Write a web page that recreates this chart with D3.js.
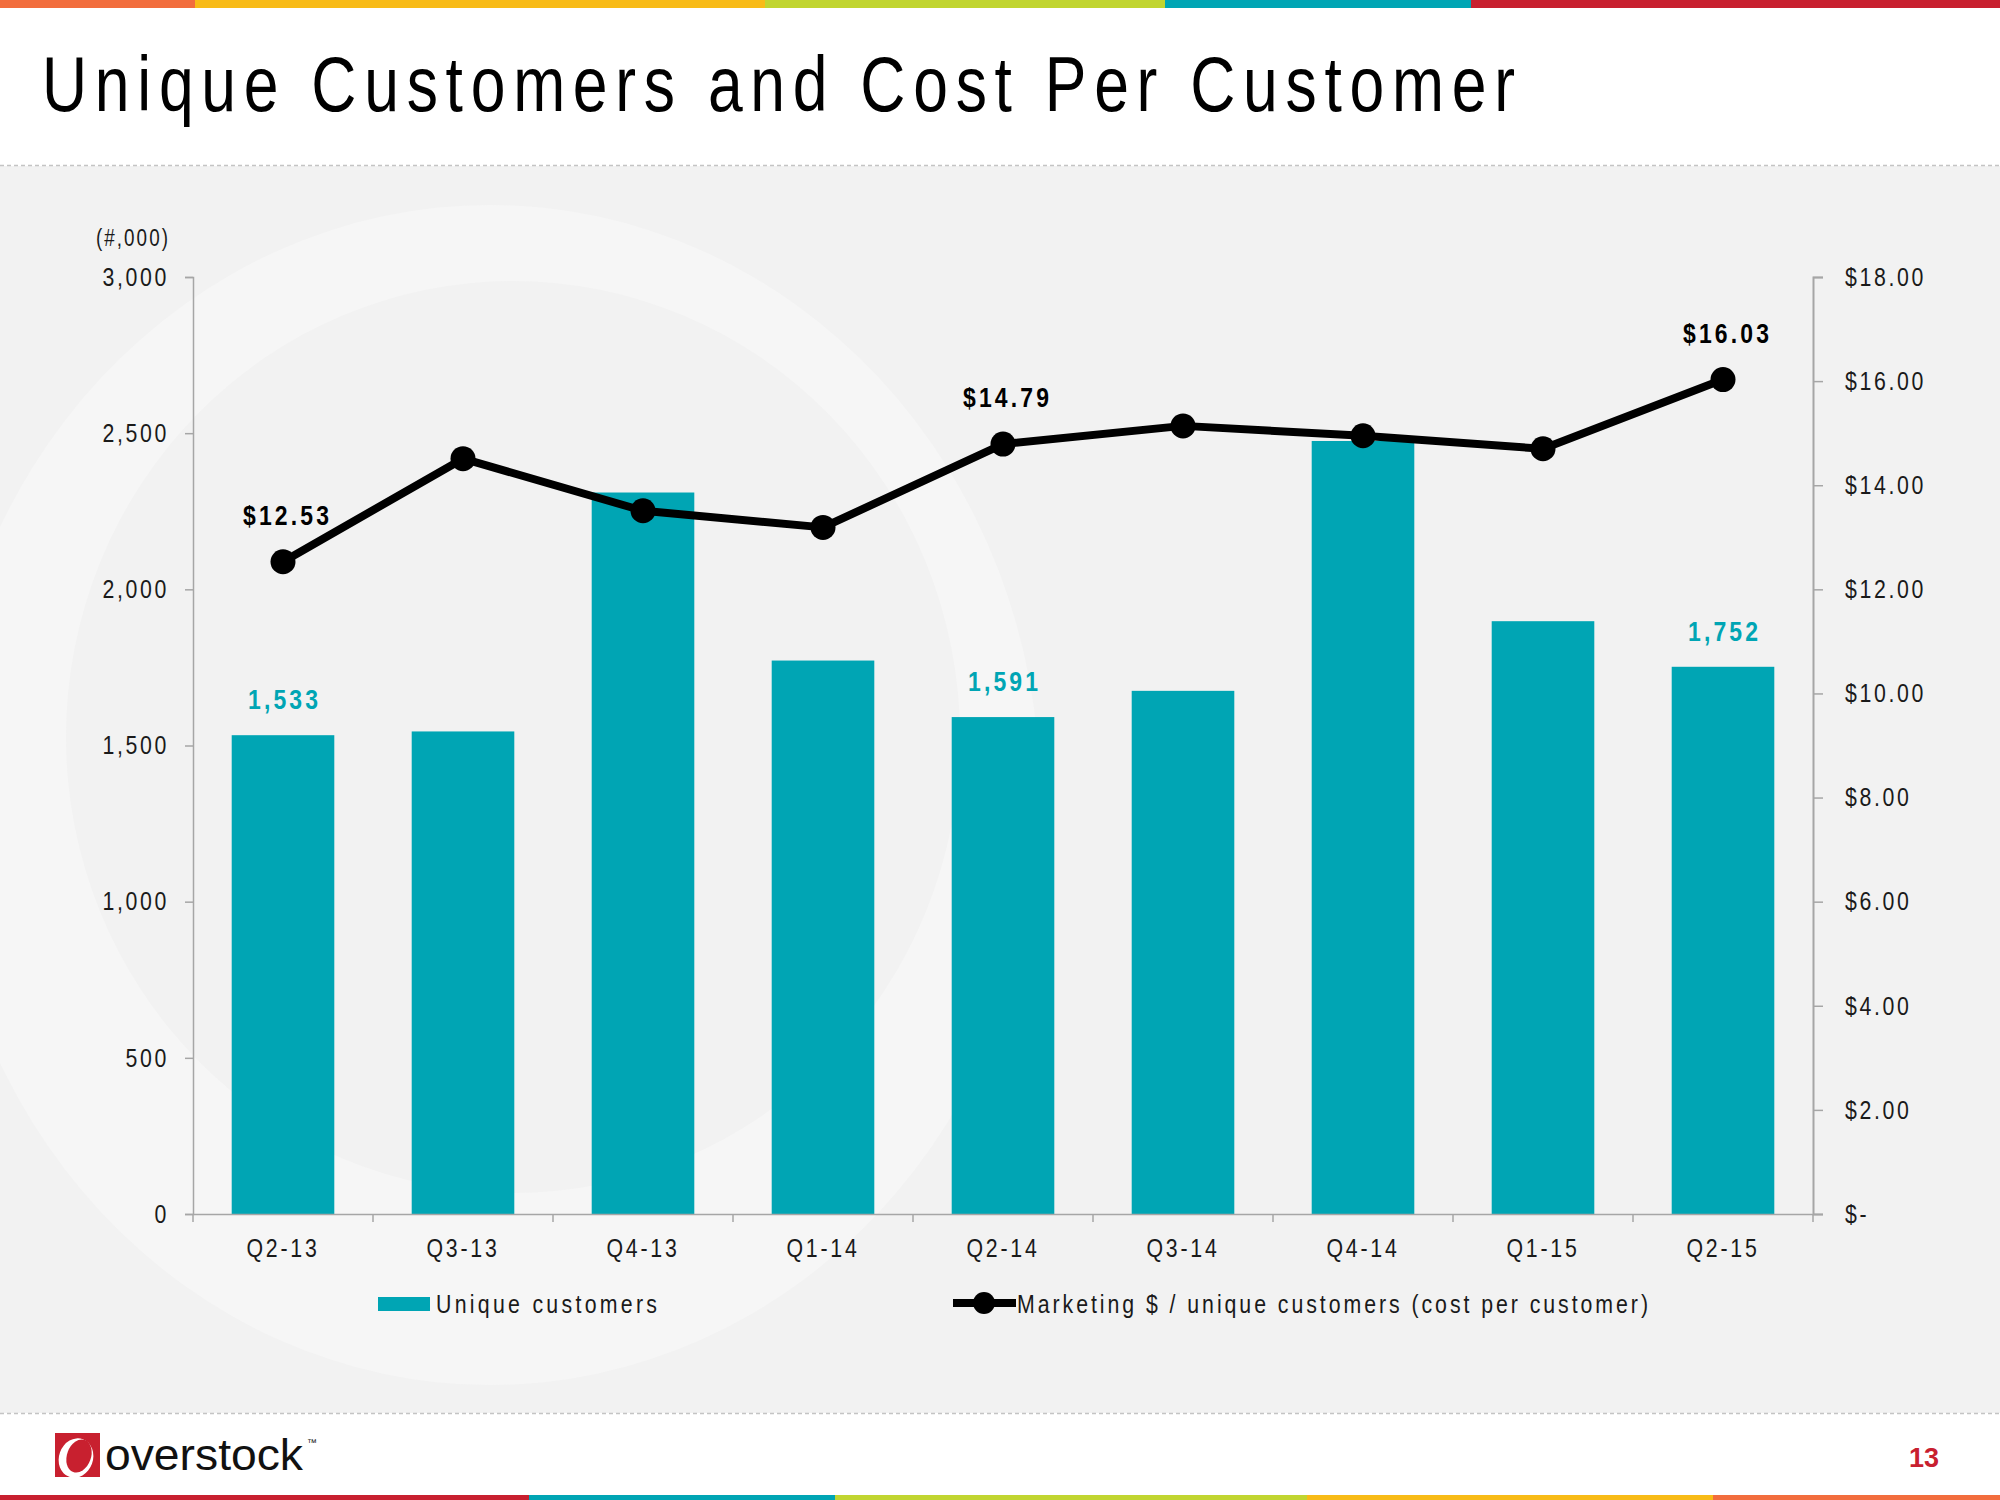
<!DOCTYPE html>
<html>
<head>
<meta charset="utf-8">
<script src="https://cdn.jsdelivr.net/npm/d3@7"></script>
<style>
  html, body { margin: 0; padding: 0; background: #fff; }
  svg { display: block; }
  text { font-family: "Liberation Sans", Arial, sans-serif; }
</style>
</head>
<body>
<svg id="chart" width="2000" height="1500"></svg>
<script>
// ---- data ----
const categories = ["Q2-13","Q3-13","Q4-13","Q1-14","Q2-14","Q3-14","Q4-14","Q1-15","Q2-15"];
const uniqueCustomers = [1533, 1545, 2310, 1772, 1591, 1675, 2475, 1898, 1752];
const costPerCustomer = [12.53, 14.51, 13.51, 13.19, 14.79, 15.14, 14.95, 14.70, 16.03];
const labeledIndexes = [0, 4, 8];
const leftTicks = [0, 500, 1000, 1500, 2000, 2500, 3000];
const rightTicks = [0, 2, 4, 6, 8, 10, 12, 14, 16, 18];
const titleText = "Unique Customers and Cost Per Customer";
const seriesNames = ["Unique customers", "Marketing $ / unique customers (cost per customer)"];
const topBarColors = ["#F26D3D", "#F8BB17", "#C1D530", "#00A5B4", "#C8202F"];
const topBarStops = [0, 195, 765, 1165, 1471, 2000];
const bottomBarColors = ["#C8202F", "#00A5B4", "#C1D530", "#F8BB17", "#F26D3D"];
const bottomBarStops = [0, 529, 835, 1307, 1713, 2000];

const TEAL = "#00A5B4";
const NARROW = 0.82;
const svg = d3.select("#chart");

// ---- page background ----
svg.append("rect").attr("x",0).attr("y",0).attr("width",2000).attr("height",1500).attr("fill","#fff");
svg.append("rect").attr("x",0).attr("y",166).attr("width",2000).attr("height",1247).attr("fill","#F2F2F2");

// watermark ring
const defs = svg.append("defs");
defs.append("clipPath").attr("id","bandClip").append("rect")
  .attr("x",0).attr("y",166).attr("width",2000).attr("height",1247);
function ellipsePath(cx, cy, rx, ry) {
  return `M${cx-rx},${cy} a${rx},${ry} 0 1,0 ${2*rx},0 a${rx},${ry} 0 1,0 ${-2*rx},0 Z`;
}
svg.append("path")
  .attr("clip-path","url(#bandClip)")
  .attr("d", ellipsePath(490, 795, 550, 590) + " " + ellipsePath(513, 737, 447, 456))
  .attr("fill-rule","evenodd")
  .attr("fill","#F6F6F6");

// color bars
topBarColors.forEach((c,i) => {
  svg.append("rect").attr("x", topBarStops[i]).attr("y",0)
    .attr("width", topBarStops[i+1]-topBarStops[i]).attr("height",8).attr("fill",c);
});
bottomBarColors.forEach((c,i) => {
  svg.append("rect").attr("x", bottomBarStops[i]).attr("y",1495)
    .attr("width", bottomBarStops[i+1]-bottomBarStops[i]).attr("height",5).attr("fill",c);
});
// dashed separators
[165.5, 1413.5].forEach(y => {
  svg.append("line").attr("x1",0).attr("x2",2000).attr("y1",y).attr("y2",y)
    .attr("stroke","#C4C4C4").attr("stroke-width",1.5).attr("stroke-dasharray","4,3");
});

// narrow text helper: horizontally condensed glyphs
function narrowText(parent, x, y, str, opts) {
  const s = opts.scale || NARROW;
  const g = parent.append("g").attr("transform", `translate(${x},${y}) scale(${s},1)`);
  const t = g.append("text").attr("x", 0).attr("y", 0)
    .attr("text-anchor", opts.anchor || "start")
    .style("font-size", opts.size + "px")
    .style("font-weight", opts.weight || "normal")
    .style("letter-spacing", (opts.spacing || 0) + "px")
    .attr("fill", opts.fill || "#000")
    .text(str);
  if (opts.width) t.attr("textLength", opts.width / s).attr("lengthAdjust", "spacing");
  return t;
}
// condense axis labels in place
function narrowAxisText(g, spacing) {
  g.selectAll("text").each(function() {
    const t = d3.select(this);
    const x0 = +t.attr("x") || 0;
    t.attr("x", x0 / NARROW).attr("transform", `scale(${NARROW},1)`)
      .style("font-size","26px").style("letter-spacing", spacing + "px").attr("fill","#1a1a1a");
  });
}

// title
narrowText(svg, 42, 111, titleText, {size: 78, scale: 0.8, width: 1473, fill: "#000"});

// ---- scales ----
const x = d3.scaleBand().domain(categories).range([193, 1813]).paddingInner(0.43).paddingOuter(0.215);
const yL = d3.scaleLinear().domain([0, 3000]).range([1214, 277]);
const yR = d3.scaleLinear().domain([0, 18]).range([1214, 277]);

const AXIS_COLOR = "#A6A6A6";

// left axis
const gL = svg.append("g").attr("transform","translate(193,0)")
  .call(d3.axisLeft(yL).tickValues(leftTicks).tickFormat(d3.format(",")).tickSize(8).tickPadding(16));
gL.select(".domain").attr("stroke",AXIS_COLOR).attr("stroke-width",1.5);
gL.selectAll(".tick line").attr("stroke",AXIS_COLOR).attr("stroke-width",1.5);
narrowAxisText(gL, 3.2);

// right axis
const gR = svg.append("g").attr("transform","translate(1813,0)")
  .call(d3.axisRight(yR).tickValues(rightTicks)
    .tickFormat(d => d === 0 ? "$-" : "$" + d.toFixed(2)).tickSize(10).tickPadding(22));
gR.select(".domain").attr("stroke",AXIS_COLOR).attr("stroke-width",2);
gR.selectAll(".tick line").attr("stroke",AXIS_COLOR).attr("stroke-width",1.5);
narrowAxisText(gR, 3.2);

// unit label
narrowText(svg, 170, 246, "(#,000)", {size: 23, anchor: "end", spacing: 2.5, fill: "#1a1a1a"});

// bars
svg.append("g").selectAll("rect").data(categories).join("rect")
  .attr("x", d => x(d)).attr("width", x.bandwidth())
  .attr("y", (d,i) => yL(uniqueCustomers[i]))
  .attr("height", (d,i) => yL(0) - yL(uniqueCustomers[i]))
  .attr("fill", TEAL);

// bottom axis
const gB = svg.append("g").attr("transform", `translate(0,${yL(0)})`)
  .call(d3.axisBottom(x).tickSize(0).tickPadding(25));
gB.select(".domain").attr("stroke",AXIS_COLOR).attr("stroke-width",1.5);
narrowAxisText(gB, 3.4);
const boundaries = d3.range(categories.length + 1).map(i => 193 + i * x.step());
gB.selectAll(".bnd").data(boundaries).join("line").attr("class","bnd")
  .attr("x1", d => d).attr("x2", d => d).attr("y1", 0).attr("y2", 8)
  .attr("stroke", AXIS_COLOR).attr("stroke-width",1.5);

// line
const cx = (d,i) => x(categories[i]) + x.bandwidth()/2;
const line = d3.line().x((d,i) => cx(d,i)).y(d => yR(d));
svg.append("path").datum(costPerCustomer).attr("d", line)
  .attr("fill","none").attr("stroke","#000").attr("stroke-width",8).attr("stroke-linejoin","round");
svg.append("g").selectAll("circle").data(costPerCustomer).join("circle")
  .attr("cx", cx).attr("cy", d => yR(d)).attr("r", 12.5).attr("fill","#000");

// data labels (condensed bold with spacing, as in the reference)
labeledIndexes.forEach(i => {
  narrowText(svg, cx(null,i) + 3, yR(costPerCustomer[i]) - 37,
    "$" + costPerCustomer[i].toFixed(2),
    {size: 28, weight: "bold", anchor: "middle", width: 86, fill: "#000"});
  narrowText(svg, cx(null,i), yL(uniqueCustomers[i]) - 26,
    d3.format(",")(uniqueCustomers[i]),
    {size: 28, weight: "bold", anchor: "middle", width: 70, fill: TEAL});
});

// legend
const lg = svg.append("g");
lg.append("rect").attr("x",378).attr("y",1297).attr("width",52).attr("height",14).attr("fill",TEAL);
narrowText(lg, 436, 1313, seriesNames[0], {size: 26, width: 221, fill: "#1a1a1a"});
lg.append("line").attr("x1",953).attr("x2",1016).attr("y1",1303).attr("y2",1303)
  .attr("stroke","#000").attr("stroke-width",8);
lg.append("circle").attr("cx",984).attr("cy",1303).attr("r",11).attr("fill","#000");
narrowText(lg, 1017, 1313, seriesNames[1], {size: 26, width: 631, fill: "#1a1a1a"});

// footer logo
const logo = svg.append("g");
logo.append("rect").attr("x",55).attr("y",1433).attr("width",45).attr("height",44).attr("fill","#C8202F");
logo.append("ellipse").attr("cx",0).attr("cy",0).attr("rx",17).attr("ry",20)
  .attr("transform","translate(76,1458) rotate(20)").attr("fill","#fff");
logo.append("ellipse").attr("cx",0).attr("cy",0).attr("rx",12).attr("ry",17)
  .attr("transform","translate(79,1456) rotate(20)").attr("fill","#C8202F");
logo.append("text").attr("x",105).attr("y",1470).attr("textLength",198).attr("lengthAdjust","spacingAndGlyphs")
  .style("font-size","44px").attr("fill","#111").text("overstock");
logo.append("text").attr("x",307).attr("y",1446).style("font-size","10px").attr("fill","#111").text("™");

svg.append("text").attr("x",1924).attr("y",1467).attr("text-anchor","middle")
  .style("font-size","27px").style("font-weight","bold").attr("fill","#C8202F").text("13");
</script>
</body>
</html>
